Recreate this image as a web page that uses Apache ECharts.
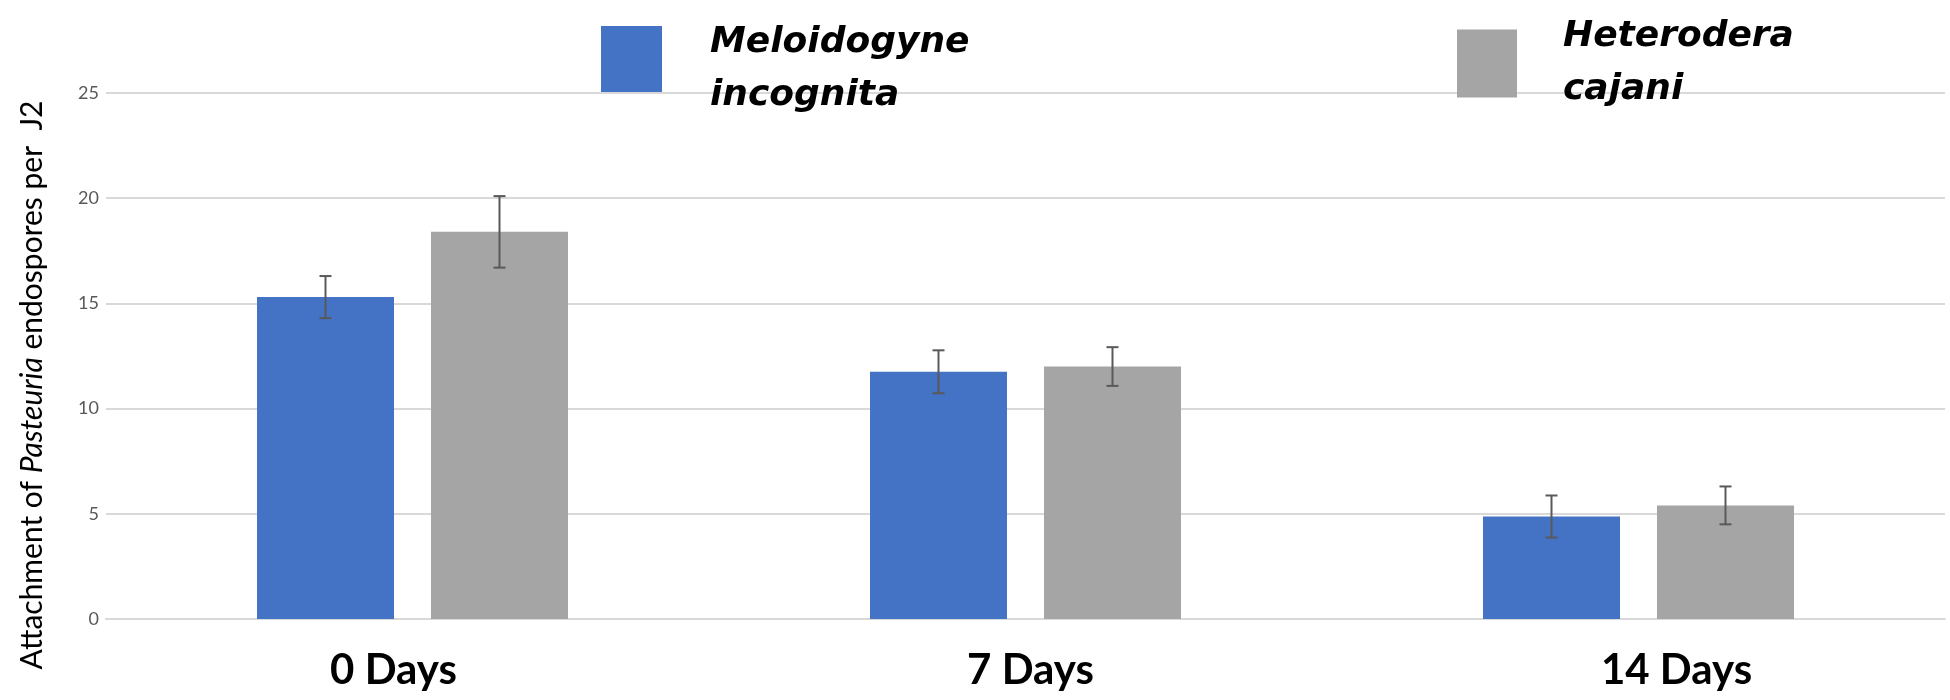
<!DOCTYPE html>
<html>
<head>
<meta charset="utf-8">
<script src="https://cdn.jsdelivr.net/npm/echarts@6/dist/echarts.min.js"></script>
<style>html,body{margin:0;padding:0;background:#fff}#c{width:1950px;height:700px}</style>
</head>
<body>
<div id="c"></div>
<script>
const categories = ['0 Days', '7 Days', '14 Days'];
const seriesNames = ['Meloidogyne\nincognita', 'Heterodera\ncajani'];
const incognitaMean = [15.3, 11.75, 4.87];
const incognitaErr = [1.0, 1.02, 1.0];
const cajaniMean = [18.4, 12.0, 5.4];
const cajaniErr = [1.7, 0.92, 0.9];
const yTicks = { min: 0, max: 25, interval: 5 };

const BAR_W = 137, BAR_GAP_PX = 37;
const HALF_STEP = (BAR_W + BAR_GAP_PX) / 2;
const labelShift = [-19, 5, 38];

const chart = echarts.init(document.getElementById('c'));

function errRender(sign) {
  return function (params, api) {
    const i = api.value(0), m = api.value(1), e = api.value(2);
    const x = api.coord([i, 0])[0] + sign * HALF_STEP;
    const yt = api.coord([i, m + e])[1];
    const yb = api.coord([i, m - e])[1];
    const cap = 6;
    const style = { stroke: '#595959', lineWidth: 2 };
    return {
      type: 'group',
      children: [
        { type: 'line', shape: { x1: x, y1: yt, x2: x, y2: yb }, style },
        { type: 'line', shape: { x1: x - cap, y1: yt, x2: x + cap, y2: yt }, style },
        { type: 'line', shape: { x1: x - cap, y1: yb, x2: x + cap, y2: yb }, style }
      ]
    };
  };
}

const richLabels = {};
labelShift.forEach((s, i) => {
  richLabels['l' + i] = {
    fontFamily: 'Lato', fontWeight: 'bold', fontSize: 42, color: '#000',
    padding: s < 0 ? [0, -2 * s, 0, 0] : [0, 0, 0, 2 * s]
  };
});

const legendRich = {
  a: {
    fontFamily: 'DejaVu Sans', fontStyle: 'italic', fontWeight: 'bold',
    fontSize: 36, color: '#000', lineHeight: 53
  },
  s: { fontSize: 10, lineHeight: 20, height: 20 }
};
function legendFmt(spacer) {
  return name => (spacer ? '{s| }\n' : '') +
    name.split('\n').map(t => '{a|' + t + '}').join('\n');
}

chart.setOption({
  animation: false,
  backgroundColor: '#fff',
  legend: [
    {
      data: [seriesNames[0]], left: 601, top: -4, padding: 0, icon: 'rect',
      itemWidth: 61, itemHeight: 66,
      formatter: legendFmt(true),
      textStyle: { padding: [0, 0, 0, 43], rich: legendRich }
    },
    {
      data: [seriesNames[1]], left: 1457, top: 19, padding: 0, icon: 'rect',
      itemWidth: 60, itemHeight: 68,
      formatter: legendFmt(false),
      textStyle: { padding: [0, 0, 0, 41], rich: legendRich }
    }
  ],
  grid: { left: 106, right: 5, top: 93, bottom: 81, containLabel: false },
  xAxis: {
    type: 'category',
    data: categories,
    axisLine: { show: true, lineStyle: { color: '#D9D9D9', width: 2 } },
    axisTick: { show: false },
    axisLabel: {
      margin: 30,
      formatter: (v, i) => '{l' + i + '|' + v + '}',
      rich: richLabels
    }
  },
  yAxis: {
    type: 'value',
    min: yTicks.min, max: yTicks.max, interval: yTicks.interval,
    axisLine: { show: false },
    axisTick: { show: false },
    splitLine: { lineStyle: { color: '#D9D9D9', width: 2 } },
    axisLabel: { fontFamily: 'Lato', fontSize: 18, color: '#595959', margin: 7 },
    name: '{n|Attachment of }{i|Pasteuria}{n| endospores per  J2}',
    nameLocation: 'middle',
    nameRotate: 90,
    nameGap: 59,
    nameTextStyle: {
      padding: [0, 58, 0, 0],
      rich: {
        n: { fontFamily: 'Lato', fontSize: 30, color: '#000' },
        i: { fontFamily: 'Lato', fontSize: 30, color: '#000', fontStyle: 'italic' }
      }
    }
  },
  series: [
    {
      name: seriesNames[0], type: 'bar', data: incognitaMean,
      barWidth: BAR_W, barGap: (BAR_GAP_PX / BAR_W * 100).toFixed(1) + '%',
      itemStyle: { color: '#4472C4' }
    },
    {
      name: seriesNames[1], type: 'bar', data: cajaniMean,
      barWidth: BAR_W,
      itemStyle: { color: '#A5A5A5' }
    },
    {
      type: 'custom', name: 'errA', z: 10,
      renderItem: errRender(-1),
      encode: { x: 0, y: 1 },
      data: incognitaMean.map((m, i) => [i, m, incognitaErr[i]])
    },
    {
      type: 'custom', name: 'errB', z: 10,
      renderItem: errRender(1),
      encode: { x: 0, y: 1 },
      data: cajaniMean.map((m, i) => [i, m, cajaniErr[i]])
    }
  ]
});
</script>
</body>
</html>
